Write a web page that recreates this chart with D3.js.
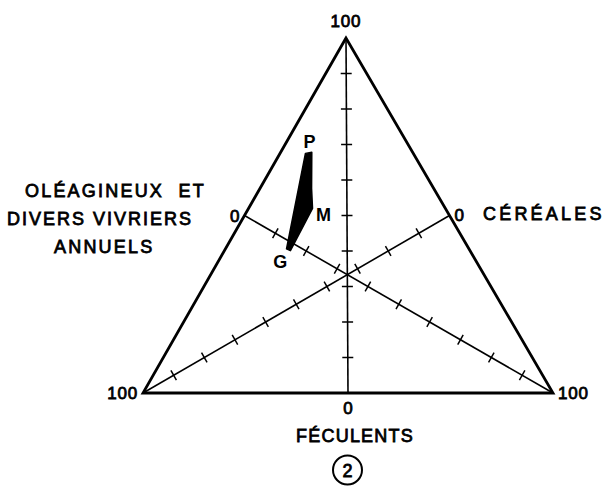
<!DOCTYPE html>
<html>
<head>
<meta charset="utf-8">
<script src="https://cdn.jsdelivr.net/npm/d3@7"></script>
<style>
  html, body { margin: 0; padding: 0; background: #fff; }
  svg text { font-family: "Liberation Sans", Arial, sans-serif; fill: #000; white-space: pre; }
</style>
</head>
<body>
<svg id="chart" width="609" height="489"></svg>
<script>
// Ternary composition: féculents (top), céréales (bottom left), oléagineux (bottom right), in %
const components = ["FÉCULENTS", "CÉRÉALES", "OLÉAGINEUX"];
// Outline of the shaded field: [féculents, céréales, oléagineux]
const fieldPoints = [
  [67.5, 26.3, 6.2],
  [67.8, 24.6, 7.6],
  [57.6, 29.8, 12.6],
  [52.0, 32.4, 15.6],
  [40.1, 43.8, 16.1],
  [40.6, 44.5, 14.9]
];
const markerNames = ["P", "M", "G"];
const markerPoints = [[67.6, 25.5, 6.9], [52.0, 32.4, 15.6], [40.3, 44.2, 15.5]];
const tickValues = [10, 20, 30, 40, 50, 60, 70, 80, 90];
const endLabels = ["100", "0"];

const svg = d3.select("#chart");

// Triangle corners in pixels
const apex = [346, 38], cornerL = [143, 393], cornerR = [553, 393];
const corners = [apex, cornerL, cornerR];

// Barycentric scale: each share pulls the point toward its corner
const shareScale = d3.scaleLinear().domain([0, 100]).range([0, 1]);
function project(d) {
  const f = shareScale(d[0]), c = shareScale(d[1]), o = shareScale(d[2]);
  return [f * apex[0] + c * cornerL[0] + o * cornerR[0], f * apex[1] + c * cornerL[1] + o * cornerR[1]];
}

// Median scales: value 100 at a corner, 0 at the middle of the opposite side.
// The array interpolator reuses its output, so every position is copied.
const mid = (a, b) => [(a[0] + b[0]) / 2, (a[1] + b[1]) / 2];
const medianScale = (from, to) => {
  const s = d3.scaleLinear().domain([100, 0]).range([from, to]);
  return v => s(v).slice();
};
const medians = [
  medianScale(apex, mid(cornerL, cornerR)),
  medianScale(cornerL, mid(apex, cornerR)),
  medianScale(cornerR, mid(apex, cornerL))
];

// Frame
svg.append("path")
  .attr("d", d3.line()(corners) + "Z")
  .attr("fill", "none").attr("stroke", "#000").attr("stroke-width", 2.8)
  .attr("stroke-linejoin", "miter");

// Medians with ticks
medians.forEach(s => {
  const a = s(100), b = s(0);
  svg.append("line")
    .attr("x1", a[0]).attr("y1", a[1]).attr("x2", b[0]).attr("y2", b[1])
    .attr("stroke", "#000").attr("stroke-width", 1.6);
  const dx = b[0] - a[0], dy = b[1] - a[1], len = Math.hypot(dx, dy);
  const nx = -dy / len, ny = dx / len, h = 5.5;
  svg.append("g").selectAll("line").data(tickValues).join("line")
    .attr("x1", v => s(v)[0] - nx * h).attr("y1", v => s(v)[1] - ny * h)
    .attr("x2", v => s(v)[0] + nx * h).attr("y2", v => s(v)[1] + ny * h)
    .attr("stroke", "#000").attr("stroke-width", 1.5);
});

// Shaded field
svg.append("path")
  .attr("d", d3.line()(fieldPoints.map(project)) + "Z")
  .attr("fill", "#000").attr("stroke", "#000").attr("stroke-width", 1.5)
  .attr("stroke-linejoin", "round");

// Point names
const nameOffsets = [[1, -12], [11, 6], [-8, 12]];
svg.append("g").selectAll("text").data(markerNames).join("text")
  .attr("x", (d, i) => project(markerPoints[i])[0] + nameOffsets[i][0])
  .attr("y", (d, i) => project(markerPoints[i])[1] + nameOffsets[i][1])
  .attr("dy", "0.36em")
  .attr("text-anchor", "middle")
  .attr("font-size", 18).attr("font-weight", "bold")
  .text(d => d);

// Text helper
const lab = (x, y, t, anchor, size, spacing) => svg.append("text")
  .attr("x", x).attr("y", y).attr("text-anchor", anchor)
  .attr("font-size", size).attr("letter-spacing", spacing || 0)
  .attr("stroke", "#000").attr("stroke-width", 0.8)
  .text(t);

// Scale end labels
lab(apex[0], 27, endLabels[0], "middle", 17, 0.8);
lab(cornerL[0] - 5, 399, endLabels[0], "end", 17, 0.8);
lab(cornerR[0] + 5, 399, endLabels[0], "start", 17, 0.8);

const m0 = medians[0](0), m1 = medians[1](0), m2 = medians[2](0);
lab(m0[0], 414, endLabels[1], "middle", 17);
lab(m1[0] + 5, 221, endLabels[1], "start", 17);
lab(m2[0] - 5, 222, endLabels[1], "end", 17);

// Component names
lab(483, 220, components[1], "start", 18, 3.2);
lab(355, 442, components[0], "middle", 18, 1.2);
lab(25, 197, "OLÉAGINEUX  ET", "start", 18, 2.2);
lab(7, 225, "DIVERS VIVRIERS", "start", 18, 2.0);
lab(54, 253, "ANNUELS", "start", 18, 2.2);

// Figure number
svg.append("circle").attr("cx", 347.5).attr("cy", 470).attr("r", 14.5)
  .attr("fill", "none").attr("stroke", "#000").attr("stroke-width", 2);
lab(347.5, 476.5, "2", "middle", 18);
</script>
</body>
</html>
